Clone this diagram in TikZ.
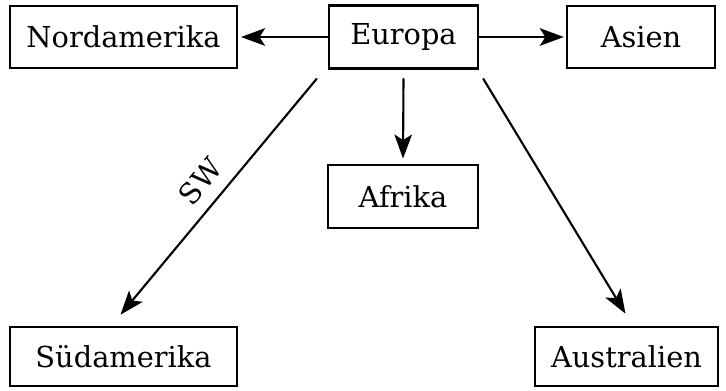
\documentclass[tikz,border=0pt]{standalone}
\usepackage{fontspec}
\setmainfont{DejaVu Serif}
\usetikzlibrary{arrows.meta}

\begin{document}
\begin{tikzpicture}
		[x=0.025cm,y=-0.025cm,line cap=round,
		%Styles
		continent/.style={draw,line width=1.7pt,minimum height=1.55cm,inner sep=0pt,font=\fontsize{20.5}{24}\selectfont},
		route/.style={line width=1.5pt,-{Stealth[length=6mm,width=4.4mm,inset=1.4mm]}},
		direction text/.style={font=\fontsize{20.5}{24}\selectfont,inner sep=0.3cm}
		]
		\useasboundingbox (0,0) rectangle (726,390);
		
		%The continents
		\node[continent,minimum width=5.68cm] (na) at (123.5,37) {Nordamerika};
		\node[continent,minimum width=3.73cm,minimum height=1.58cm] (eu) at (403.5,37) {Europa};
		\node[continent,minimum width=3.7cm] (as) at (641,37) {Asien};
		\node[continent,minimum width=3.75cm,minimum height=1.58cm] (af) at (403,196.5) {Afrika};
		\node[continent,minimum width=5.68cm,minimum height=1.48cm] (sa) at (123.5,356.5) {Südamerika};
		\node[continent,minimum width=4.58cm,minimum height=1.48cm] (au) at (626.5,356.5) {Australien};
		
		%The routes
		\draw[route,shorten >=0.07cm] (eu.west) -- (na.east);
		\draw[route,shorten >=0.05cm] (eu.east) -- (as.west);
		\draw[route,shorten >=0.13cm] ([yshift=-0.23cm]eu.south) -- (af.north);
		\draw[route] ([shift={(-11,9)}]eu.south west) -- node[direction text,sloped,above,pos=0.5]{SW} ([shift={(-3,-11)}]sa.north);
		\draw[route] ([shift={(4,9)}]eu.south east) -- ([shift={(-1,-12)}]au.north);
\end{tikzpicture}
\end{document}
